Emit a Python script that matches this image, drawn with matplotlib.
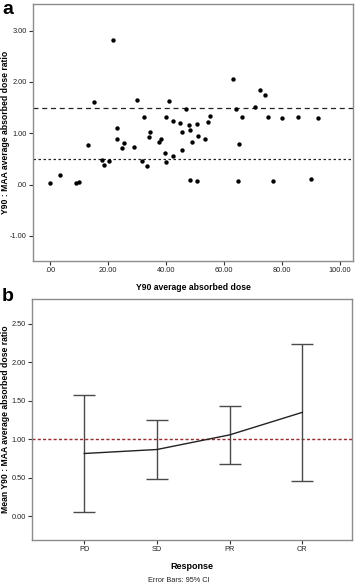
import matplotlib
matplotlib.use("Agg")
import matplotlib.pyplot as plt

# panel a: Y90 average absorbed dose vs ratio
dose = [0.0, 3.4, 9.0, 10.1, 13.2, 15.1, 18.0, 18.8, 20.5, 21.8, 23.2, 23.1, 24.7, 25.6,
        29.1, 29.9, 31.8, 32.4, 33.6, 34.0, 34.6, 37.7, 38.2, 39.8, 40.0, 39.9, 41.0,
        42.3, 42.3, 44.8, 45.6, 45.7, 47.0, 47.8, 48.3, 49.1, 48.4, 50.6, 50.9, 50.7,
        53.6, 54.4, 55.3, 63.2, 64.1, 64.8, 65.3, 66.2, 70.6, 72.6, 74.1, 75.3, 76.8,
        79.9, 85.4, 90.1, 92.6]
ratio = [0.02, 0.19, 0.03, 0.05, 0.77, 1.60, 0.48, 0.38, 0.46, 2.82, 1.10, 0.88, 0.71, 0.80,
         0.74, 1.64, 0.45, 1.31, 0.36, 0.92, 1.03, 0.83, 0.88, 0.62, 0.43, 1.32, 1.63,
         0.56, 1.23, 1.19, 1.03, 0.67, 1.48, 1.16, 1.06, 0.82, 0.09, 1.18, 0.94, 0.06,
         0.88, 1.22, 1.34, 2.05, 1.48, 0.07, 0.79, 1.31, 1.51, 1.84, 1.74, 1.31, 0.07,
         1.29, 1.32, 0.10, 1.29]
upper_ref = 1.5
lower_ref = 0.5

# panel b: mean ratio by response with 95% CI
response = ["PD", "SD", "PR", "CR"]
mean_ratio = [0.815, 0.867, 1.057, 1.35]
ci_low = [0.05, 0.485, 0.675, 0.455]
ci_high = [1.58, 1.25, 1.43, 2.245]
ref_line = 1.0

plt.rcParams['font.family'] = ['Liberation Sans', 'DejaVu Sans']

frame = "#8c8c8c"
tick_fs = 5.3
label_fs = 6.2


def style_axes(ax):
    for s in ax.spines.values():
        s.set_color(frame)
        s.set_linewidth(1.0)
    ax.tick_params(direction="out", length=3, width=0.8, color="#333333",
                   labelsize=tick_fs, pad=1.5, labelcolor="#222222")


fig = plt.figure(figsize=(3.58, 5.86), dpi=100)
W, H = 358, 586

ax1 = fig.add_axes([0.093, 0.5546, 0.892, 0.438])
ax1.scatter(dose, ratio, s=10, c="black", linewidths=0, zorder=3)
ax1.axhline(upper_ref, color="#222222", lw=0.9, ls=(0, (4, 3)))
ax1.axhline(lower_ref, color="#222222", lw=0.9, ls=(0, (2, 2)))
ax1.set_xlim(-5.75, 104.4)
ax1.set_ylim(-1.49, 3.51)
ax1.set_xticks([0, 20, 40, 60, 80, 100])
ax1.set_xticklabels([".00", "20.00", "40.00", "60.00", "80.00", "100.00"])
ax1.set_yticks([-1, 0, 1, 2, 3])
ax1.set_yticklabels(["-1.00", ".00", "1.00", "2.00", "3.00"])
style_axes(ax1)
ax1.set_xlabel("Y90 average absorbed dose", fontsize=label_fs, fontweight="bold")
ax1.set_ylabel("Y90 : MAA average absorbed dose ratio", fontsize=label_fs,
               fontweight="bold")
ax1.xaxis.set_label_coords(0.5, -(283 - 261) / (0.438 * H))
ax1.yaxis.set_label_coords(-(33.3 - 10) / (0.892 * W), 0.5)

ax2 = fig.add_axes([0.0894, 0.0785, 0.893, 0.4107])
xs = list(range(len(response)))
ax2.axhline(ref_line, color="#9b2a2a", lw=1.0, ls=(0, (2.2, 1.6)), zorder=1)
yerr = [[m - lo for m, lo in zip(mean_ratio, ci_low)],
        [hi - m for m, hi in zip(mean_ratio, ci_high)]]
ax2.errorbar(xs, mean_ratio, yerr=yerr, fmt="none", ecolor="#4a4a4a",
             elinewidth=1.0, capsize=8, capthick=1.0, zorder=2)
ax2.plot(xs, mean_ratio, color="#222222", lw=1.0, zorder=3)
ax2.set_xlim(-0.72, 3.68)
ax2.set_ylim(-0.31, 2.82)
ax2.set_xticks(xs)
ax2.set_xticklabels(response)
ax2.set_yticks([0, 0.5, 1.0, 1.5, 2.0, 2.5])
ax2.set_yticklabels(["0.00", "0.50", "1.00", "1.50", "2.00", "2.50"])
style_axes(ax2)
ax2.set_xlabel("Response", fontsize=label_fs + 0.3, fontweight="bold")
ax2.set_ylabel("Mean Y90 : MAA average absorbed dose ratio", fontsize=label_fs,
               fontweight="bold")
ax2.xaxis.set_label_coords(0.5, -(562 - 540) / (0.4107 * H))
ax2.yaxis.set_label_coords(-(32 - 10) / (0.893 * W), 0.5)

fig.text(0.5, 1 - 580 / H, "Error Bars: 95% CI", fontsize=5.3, color="#222222",
         ha="center", va="center")
fig.text(0.006, 1 - 13.5 / H, "a", fontsize=14, fontweight="bold", va="baseline", ha="left")
fig.text(0.006, 1 - 301 / H, "b", fontsize=14, fontweight="bold", va="baseline", ha="left")

fig.savefig("out.png", dpi=100)
